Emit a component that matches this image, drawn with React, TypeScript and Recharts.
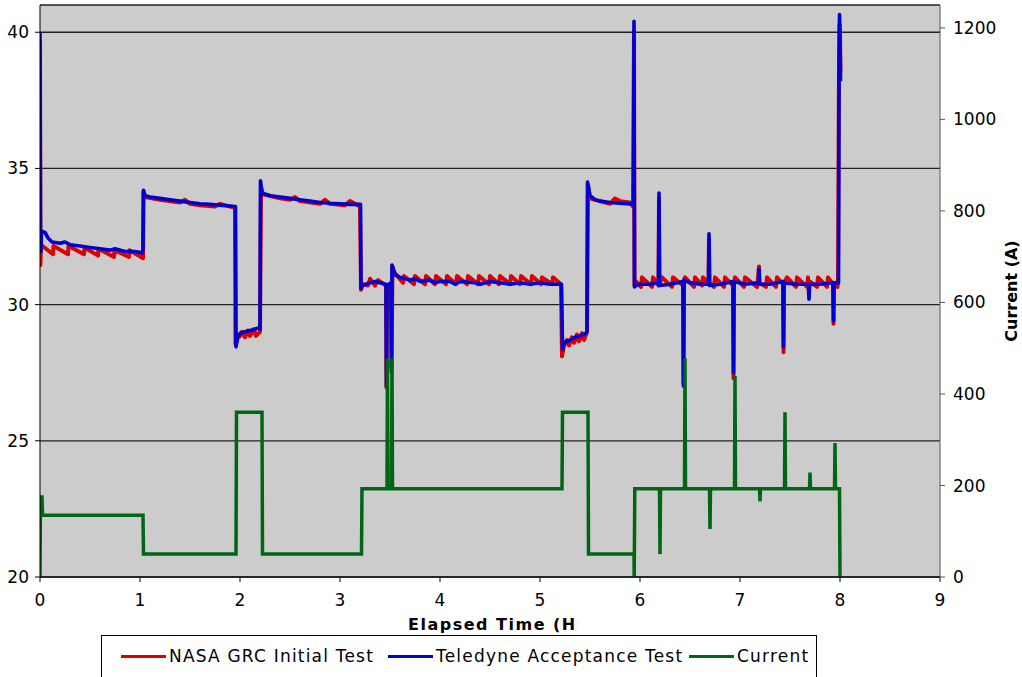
import React from 'react';
import { ComposedChart, Line, XAxis, YAxis, CartesianGrid } from 'recharts';

// [elapsed hours, volts]
const nasaGrc: [number, number][] = [
  [0, 39.7], [0.004, 31.45], [0.01, 32.2], [0.13, 31.85], [0.135, 32.15], [0.28, 31.85], [0.285, 32.15],
  [0.44, 31.85], [0.445, 32.1], [0.58, 31.8], [0.585, 32.05], [0.74, 31.75], [0.745, 32.0], [0.89, 31.75],
  [0.895, 32.0], [1.03, 31.7],
  [1.035, 34.15], [1.05, 33.95], [1.2, 33.85], [1.4, 33.75], [1.45, 33.85], [1.5, 33.7], [1.6, 33.65],
  [1.75, 33.6], [1.8, 33.7], [1.95, 33.55],
  [1.955, 28.55], [1.97, 28.75], [2.0, 28.85], [2.02, 29.0], [2.05, 28.8], [2.08, 29.05], [2.1, 28.85],
  [2.14, 29.1], [2.16, 28.85], [2.2, 29.0],
  [2.21, 34.3], [2.23, 34.05], [2.4, 33.9], [2.5, 33.85], [2.55, 33.95], [2.6, 33.8], [2.8, 33.7],
  [2.85, 33.85], [2.9, 33.7], [3.05, 33.65], [3.1, 33.8], [3.2, 33.6],
  [3.21, 30.55], [3.23, 30.75], [3.28, 30.7], [3.3, 30.95], [3.35, 30.7], [3.38, 30.9], [3.46, 30.7],
  [3.465, 26.95], [3.47, 30.7], [3.51, 30.75], [3.515, 27.5], [3.525, 31.4], [3.54, 31.2], [3.63, 30.8],
  [3.64, 31.05], [3.74, 30.75], [3.75, 31.05], [3.85, 30.75], [3.86, 31.05], [3.95, 30.75], [3.96, 31.05],
  [4.06, 30.75], [4.07, 31.05], [4.16, 30.75], [4.17, 31.05], [4.27, 30.75], [4.28, 31.05], [4.38, 30.75],
  [4.39, 31.05], [4.49, 30.75], [4.5, 31.05], [4.59, 30.75], [4.6, 31.05], [4.7, 30.75], [4.71, 31.05],
  [4.8, 30.75], [4.81, 31.05], [4.91, 30.75], [4.92, 31.05], [5.01, 30.75], [5.02, 31.0], [5.12, 30.75],
  [5.13, 31.0], [5.21, 30.75],
  [5.22, 28.1], [5.24, 28.5], [5.27, 28.7], [5.29, 28.5], [5.32, 28.8], [5.34, 28.6], [5.37, 28.9],
  [5.39, 28.65], [5.42, 28.95], [5.44, 28.7], [5.47, 29.0],
  [5.48, 34.4], [5.5, 33.9], [5.6, 33.8], [5.7, 33.7], [5.75, 33.9], [5.8, 33.8], [5.9, 33.75], [5.93, 33.6],
  [5.94, 40.05], [5.945, 30.7], [5.96, 30.85], [6.01, 30.65], [6.02, 31.0], [6.12, 30.65], [6.13, 31.0],
  [6.185, 30.7], [6.19, 33.9], [6.195, 30.75], [6.22, 31.0], [6.32, 30.65], [6.33, 31.0], [6.43, 30.7],
  [6.435, 27.1], [6.44, 30.9], [6.45, 31.0], [6.54, 30.65], [6.55, 31.0], [6.62, 30.7], [6.63, 31.0],
  [6.685, 30.75], [6.69, 32.4], [6.695, 30.8], [6.74, 30.65], [6.75, 31.0], [6.84, 30.65], [6.85, 31.0],
  [6.93, 30.7], [6.935, 27.3], [6.94, 30.8], [6.95, 31.0], [7.04, 30.65], [7.05, 31.0], [7.17, 30.65],
  [7.18, 31.0], [7.19, 31.4], [7.195, 30.8], [7.26, 30.65], [7.27, 31.0], [7.36, 30.65], [7.37, 31.0],
  [7.43, 30.75], [7.435, 28.25], [7.44, 30.8], [7.47, 31.0], [7.56, 30.65], [7.57, 31.0], [7.67, 30.65],
  [7.68, 31.0], [7.69, 30.3], [7.695, 30.85], [7.77, 30.65], [7.78, 31.0], [7.87, 30.65], [7.88, 31.0],
  [7.93, 30.75], [7.935, 29.3], [7.94, 30.8], [7.975, 30.65], [7.98, 31.0], [7.99, 38.7], [7.995, 40.3],
  [8.0, 39.8], [8.005, 38.5],
];

const teledyne: [number, number][] = [
  [0, 40.0], [0.005, 32.75], [0.01, 31.95], [0.015, 32.7], [0.05, 32.65], [0.08, 32.45], [0.12, 32.3],
  [0.2, 32.25], [0.25, 32.3], [0.3, 32.2], [0.4, 32.15], [0.5, 32.1], [0.6, 32.05], [0.7, 32.0],
  [0.75, 32.05], [0.85, 31.95], [0.95, 31.95], [1.02, 31.9], [1.03, 32.0],
  [1.035, 34.2], [1.05, 34.0], [1.1, 33.95], [1.2, 33.9], [1.3, 33.85], [1.4, 33.8], [1.5, 33.75],
  [1.6, 33.7], [1.7, 33.68], [1.8, 33.65], [1.9, 33.62], [1.955, 33.6],
  [1.96, 28.45], [1.98, 28.85], [2.0, 28.95], [2.05, 29.0], [2.1, 29.05], [2.15, 29.1], [2.19, 29.15],
  [2.2, 29.1],
  [2.205, 34.55], [2.22, 34.1], [2.3, 34.0], [2.4, 33.95], [2.5, 33.9], [2.6, 33.85], [2.7, 33.8],
  [2.8, 33.75], [2.9, 33.72], [3.0, 33.7], [3.1, 33.68], [3.205, 33.68],
  [3.21, 30.6], [3.22, 30.7], [3.3, 30.8], [3.35, 30.85], [3.4, 30.8], [3.46, 30.75], [3.465, 27.0],
  [3.47, 30.7], [3.51, 30.8], [3.515, 27.7], [3.52, 31.45], [3.55, 31.1], [3.6, 31.0], [3.7, 30.9],
  [3.75, 30.95], [3.8, 30.85], [3.9, 30.9], [3.95, 30.8], [4.0, 30.85], [4.1, 30.85], [4.15, 30.75],
  [4.2, 30.85], [4.35, 30.8], [4.4, 30.75], [4.5, 30.85], [4.6, 30.8], [4.7, 30.75], [4.8, 30.8],
  [4.9, 30.75], [5.0, 30.8], [5.1, 30.75], [5.215, 30.75],
  [5.225, 28.35], [5.24, 28.6], [5.3, 28.7], [5.35, 28.8], [5.4, 28.85], [5.46, 28.95], [5.47, 29.0],
  [5.475, 34.5], [5.5, 34.0], [5.55, 33.85], [5.6, 33.8], [5.7, 33.75], [5.8, 33.72], [5.9, 33.7],
  [5.935, 33.7], [5.94, 40.4], [5.945, 30.65], [5.96, 30.7], [6.0, 30.75], [6.1, 30.75], [6.185, 30.8],
  [6.19, 34.1], [6.195, 30.7], [6.3, 30.75], [6.43, 30.85], [6.435, 27.0], [6.44, 30.9], [6.5, 30.8],
  [6.6, 30.75], [6.685, 30.75], [6.69, 32.6], [6.695, 30.7], [6.8, 30.75], [6.93, 30.85], [6.935, 27.5],
  [6.94, 30.85], [7.05, 30.75], [7.185, 30.8], [7.19, 31.3], [7.195, 30.75], [7.3, 30.75], [7.43, 30.85],
  [7.435, 28.45], [7.44, 30.8], [7.55, 30.75], [7.685, 30.75], [7.69, 30.2], [7.695, 30.75], [7.8, 30.75],
  [7.93, 30.8], [7.935, 29.4], [7.94, 30.8], [7.985, 30.8], [7.99, 38.5], [7.995, 40.65], [8.0, 40.0],
  [8.005, 38.2],
];

// [elapsed hours, amps]
const current: [number, number][] = [
  [0, 0], [0.005, 175], [0.02, 175], [0.025, 135], [1.03, 135], [1.035, 50], [1.96, 50], [1.965, 360],
  [2.22, 360], [2.225, 50], [3.215, 50], [3.22, 193], [3.47, 193], [3.475, 478], [3.48, 193], [3.515, 193],
  [3.52, 478], [3.525, 193], [5.22, 193], [5.225, 360], [5.48, 360], [5.485, 50], [5.94, 50], [5.942, 0],
  [5.948, 193], [6.195, 193], [6.2, 50], [6.205, 193], [6.445, 193], [6.45, 478], [6.455, 193],
  [6.695, 193], [6.7, 105], [6.705, 193], [6.945, 193], [6.95, 440], [6.955, 193], [7.195, 193],
  [7.2, 165], [7.205, 193], [7.445, 193], [7.45, 360], [7.455, 193], [7.695, 193], [7.7, 228],
  [7.705, 193], [7.945, 193], [7.95, 293], [7.955, 193], [7.995, 193], [8.0, 0],
];

const hourTicks = [0, 1, 2, 3, 4, 5, 6, 7, 8, 9];
const voltTicks = [20, 25, 30, 35, 40];
const ampTicks = [0, 200, 400, 600, 800, 1000, 1200];

const toRows = (pts: [number, number][]) => pts.map(([t, y]) => ({ t, y }));

const FONT = '"DejaVu Sans", Verdana, sans-serif';
const RED = '#dd0000';
const BLUE = '#0000d0';
const GREEN = '#006615';

const legendItems = [
  { name: 'NASA GRC Initial Test', color: RED, left: 19 },
  { name: 'Teledyne Acceptance Test', color: BLUE, left: 286 },
  { name: 'Current', color: GREEN, left: 587 },
];

export default function App() {
  const tickStyle = { fontSize: 17, fill: '#000', fontFamily: FONT };
  return (
    <div style={{ position: 'absolute', left: 0, top: 0, width: 1022, height: 677, background: '#fff', overflow: 'hidden' }}>
      <ComposedChart width={1022} height={677} margin={{ top: 5, right: 0, bottom: 70, left: 0 }}>
        <CartesianGrid yAxisId="v" vertical={false} fill="#cccccc" stroke="#222" strokeWidth={1.3} />
        <XAxis
          type="number"
          dataKey="t"
          domain={[0, 9]}
          ticks={hourTicks}
          height={30}
          tickSize={5}
          tickMargin={12}
          stroke="#000"
          tick={tickStyle}
          allowDataOverflow
        />
        <YAxis
          yAxisId="v"
          orientation="left"
          domain={[20, 41]}
          ticks={voltTicks}
          width={40}
          tickSize={5}
          tickMargin={6}
          stroke="#000"
          tick={tickStyle}
          allowDataOverflow
        />
        <YAxis
          yAxisId="c"
          orientation="right"
          domain={[0, 1250]}
          ticks={ampTicks}
          width={82}
          tickSize={5}
          tickMargin={8}
          stroke="#555"
          tick={tickStyle}
          allowDataOverflow
          label={({ viewBox }: any) => (
            <text
              x={viewBox.x + 71}
              y={viewBox.y + viewBox.height / 2}
              transform={`rotate(-90 ${viewBox.x + 71} ${viewBox.y + viewBox.height / 2})`}
              textAnchor="middle"
              dominantBaseline="central"
              style={{ fontSize: 16, fontWeight: 'bold', fontFamily: FONT, fill: '#000' }}
            >
              Current (A)
            </text>
          )}
        />
        <Line
          yAxisId="v"
          data={toRows(nasaGrc)}
          dataKey="y"
          name="NASA GRC Initial Test"
          type="linear"
          stroke={RED}
          strokeWidth={4}
          strokeLinejoin="round"
          dot={false}
          isAnimationActive={false}
        />
        <Line
          yAxisId="v"
          data={toRows(teledyne)}
          dataKey="y"
          name="Teledyne Acceptance Test"
          type="linear"
          stroke={BLUE}
          strokeWidth={3.6}
          strokeLinejoin="round"
          dot={false}
          isAnimationActive={false}
        />
        <Line
          yAxisId="c"
          data={toRows(current)}
          dataKey="y"
          name="Current"
          type="linear"
          stroke={GREEN}
          strokeWidth={3.5}
          dot={false}
          isAnimationActive={false}
        />
      </ComposedChart>

      <div
        style={{
          position: 'absolute', left: 408, top: 614, width: 170, overflow: 'hidden', whiteSpace: 'nowrap',
          fontFamily: FONT, fontWeight: 'bold', fontSize: 16, letterSpacing: 1.5, color: '#000', lineHeight: '22px',
        }}
      >
        Elapsed Time (Hr)
      </div>

      <div
        style={{
          position: 'absolute', left: 101, top: 635, width: 716, height: 60, border: '1px solid #000',
          background: '#fff', boxSizing: 'border-box', fontFamily: FONT, fontSize: 17, letterSpacing: 1.2,
        }}
      >
        {legendItems.map((it) => (
          <div key={it.name} style={{ position: 'absolute', left: it.left, top: 10, display: 'flex', alignItems: 'center', whiteSpace: 'nowrap' }}>
            <span style={{ display: 'inline-block', width: 45, height: 3, background: it.color, marginRight: 3 }} />
            <span style={{ color: '#000' }}>{it.name}</span>
          </div>
        ))}
      </div>
    </div>
  );
}
